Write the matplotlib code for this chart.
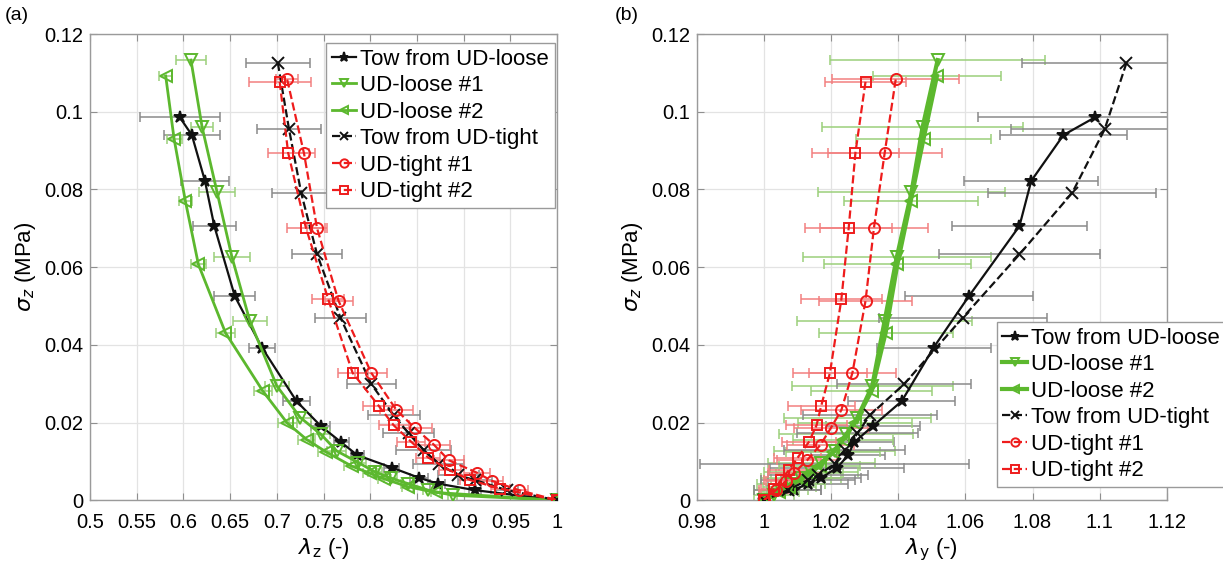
import matplotlib
matplotlib.use('Agg')
import matplotlib.pyplot as plt

plt.rcParams['font.family'] = ['Liberation Sans', 'DejaVu Sans']

# ---- Tow from UD-loose ----
sig_tl = [0.0986, 0.0940, 0.0822, 0.0706, 0.0525, 0.0393, 0.0255, 0.0191, 0.0149, 0.0116, 0.0084, 0.0058, 0.0043, 0.0026, 0.0]
lz_tl = [0.596, 0.609, 0.623, 0.633, 0.655, 0.684, 0.721, 0.747, 0.769, 0.786, 0.823, 0.852, 0.872, 0.912, 1.0]
lz_tl_err = [0.043, 0.030, 0.026, 0.023, 0.022, 0.014, 0.014, 0.010, 0.008, 0.007, 0.008, 0.010, 0.008, 0.006, 0.0]
ly_tl = [1.0987, 1.0892, 1.0796, 1.0761, 1.061, 1.0505, 1.041, 1.0324, 1.0268, 1.025, 1.0218, 1.017, 1.013, 1.0088, 1.0]
ly_tl_err = [0.035, 0.019, 0.020, 0.020, 0.019, 0.017, 0.016, 0.014, 0.012, 0.011, 0.020, 0.012, 0.012, 0.008, 0.0]

# ---- UD-loose #1 ----
sig_l1 = [0.1133, 0.0960, 0.0793, 0.0625, 0.0462, 0.0294, 0.0213, 0.0170, 0.0127, 0.0097, 0.0073, 0.0057, 0.0043, 0.0026, 0.0013, 0.0]
lz_l1 = [0.608, 0.620, 0.636, 0.652, 0.671, 0.700, 0.725, 0.747, 0.764, 0.787, 0.805, 0.822, 0.840, 0.862, 0.888, 1.0]
lz_l1_err = [0.016, 0.012, 0.019, 0.019, 0.018, 0.013, 0.012, 0.010, 0.010, 0.008, 0.008, 0.007, 0.007, 0.006, 0.005, 0.0]
ly_l1 = [1.0517, 1.0472, 1.0439, 1.0395, 1.0359, 1.0322, 1.0278, 1.0245, 1.021, 1.017, 1.014, 1.011, 1.008, 1.005, 1.003, 1.0]
ly_l1_err = [0.032, 0.030, 0.028, 0.028, 0.026, 0.024, 0.022, 0.020, 0.018, 0.016, 0.014, 0.012, 0.010, 0.008, 0.006, 0.0]

# ---- UD-loose #2 ----
sig_l2 = [0.1092, 0.0930, 0.0771, 0.0607, 0.0431, 0.0281, 0.0199, 0.0156, 0.0124, 0.0088, 0.0069, 0.0055, 0.0035, 0.0020, 0.0]
lz_l2 = [0.581, 0.590, 0.602, 0.616, 0.645, 0.685, 0.711, 0.732, 0.753, 0.780, 0.800, 0.815, 0.840, 0.870, 1.0]
lz_l2_err = [0.007, 0.008, 0.007, 0.008, 0.010, 0.010, 0.010, 0.009, 0.009, 0.008, 0.008, 0.007, 0.006, 0.005, 0.0]
ly_l2 = [1.0515, 1.0475, 1.0437, 1.0397, 1.0362, 1.032, 1.027, 1.0235, 1.0205, 1.0165, 1.0135, 1.011, 1.0075, 1.0045, 1.0]
ly_l2_err = [0.019, 0.020, 0.020, 0.022, 0.020, 0.018, 0.017, 0.015, 0.014, 0.012, 0.010, 0.009, 0.008, 0.006, 0.0]

# ---- Tow from UD-tight ----
sig_tt = [0.1126, 0.0955, 0.0791, 0.0633, 0.0470, 0.0299, 0.0219, 0.0172, 0.0129, 0.0094, 0.0064, 0.0052, 0.0026, 0.0]
lz_tt = [0.701, 0.713, 0.726, 0.743, 0.768, 0.801, 0.825, 0.841, 0.857, 0.873, 0.894, 0.912, 0.946, 1.0]
lz_tt_err = [0.034, 0.034, 0.031, 0.027, 0.027, 0.026, 0.028, 0.027, 0.029, 0.027, 0.022, 0.018, 0.012, 0.0]
ly_tt = [1.108, 1.1015, 1.0918, 1.0761, 1.0592, 1.0417, 1.0315, 1.0278, 1.024, 1.021, 1.016, 1.013, 1.007, 1.0]
ly_tt_err = [0.031, 0.028, 0.025, 0.024, 0.025, 0.020, 0.020, 0.018, 0.018, 0.040, 0.015, 0.014, 0.010, 0.0]

# ---- UD-tight #1 ----
sig_t1 = [0.1083, 0.0893, 0.0700, 0.0513, 0.0328, 0.0232, 0.0185, 0.0143, 0.0103, 0.0071, 0.0050, 0.0026, 0.0]
lz_t1 = [0.711, 0.729, 0.743, 0.766, 0.801, 0.828, 0.848, 0.868, 0.884, 0.914, 0.930, 0.959, 1.0]
lz_t1_err = [0.012, 0.012, 0.011, 0.015, 0.017, 0.018, 0.018, 0.017, 0.016, 0.014, 0.012, 0.010, 0.0]
ly_t1 = [1.0392, 1.0359, 1.0327, 1.0302, 1.0263, 1.023, 1.0198, 1.0168, 1.0128, 1.009, 1.0065, 1.0035, 1.0]
ly_t1_err = [0.019, 0.017, 0.016, 0.014, 0.013, 0.012, 0.011, 0.010, 0.009, 0.008, 0.006, 0.005, 0.0]

# ---- UD-tight #2 ----
sig_t2 = [0.1077, 0.0895, 0.0702, 0.0517, 0.0328, 0.0243, 0.0193, 0.0150, 0.0110, 0.0077, 0.0052, 0.0030, 0.0]
lz_t2 = [0.703, 0.712, 0.731, 0.755, 0.781, 0.809, 0.825, 0.844, 0.862, 0.885, 0.907, 0.939, 1.0]
lz_t2_err = [0.033, 0.022, 0.020, 0.017, 0.016, 0.017, 0.016, 0.015, 0.013, 0.012, 0.011, 0.010, 0.0]
ly_t2 = [1.0302, 1.0272, 1.0252, 1.023, 1.0196, 1.017, 1.0156, 1.0133, 1.010, 1.0073, 1.005, 1.003, 1.0]
ly_t2_err = [0.012, 0.013, 0.013, 0.012, 0.011, 0.010, 0.009, 0.008, 0.007, 0.006, 0.005, 0.004, 0.0]

labels = ['Tow from UD-loose', 'UD-loose #1', 'UD-loose #2',
          'Tow from UD-tight', 'UD-tight #1', 'UD-tight #2']

BLACK = '#111111'
GREEN = '#5cb82e'
RED = '#ee1c1c'
GREY_E = '#8a8a8a'
GREEN_E = '#9bd07a'
RED_E = '#f28080'


def draw_series(ax, x, y, xerr, color, ecolor, marker, ls, lw, ms, label):
    ax.errorbar(x, y, xerr=xerr, fmt='none', ecolor=ecolor, elinewidth=1.1,
                capsize=3.5, capthick=1.1, zorder=2)
    mfc = color if marker == '*' else 'none'
    ax.plot(x, y, color=color, ls=ls, lw=lw, marker=marker, ms=ms,
            mfc=mfc, mec=color, mew=1.4, label=label, zorder=3)


def style_axes(ax, xlim, xticks, xlabel):
    ax.set_xlim(*xlim)
    ax.set_ylim(0, 0.12)
    ax.set_xticks(xticks)
    ax.set_xticklabels([('%g' % t) for t in xticks])
    ax.set_yticks([0, 0.02, 0.04, 0.06, 0.08, 0.1, 0.12])
    ax.set_yticklabels(['0', '0.02', '0.04', '0.06', '0.08', '0.1', '0.12'])
    ax.grid(True, color='#e3e3e3', lw=0.9)
    ax.set_axisbelow(True)
    ax.tick_params(direction='in', length=5, width=0.8, color='#8f8f8f',
                   top=True, right=True, labelsize=14.5)
    ax.tick_params(axis='x', pad=9)
    ax.tick_params(axis='y', pad=5)
    for s in ax.spines.values():
        s.set_color('#9a9a9a')
        s.set_linewidth(1.0)
    ax.set_xlabel(xlabel, fontsize=16, labelpad=3)
    ax.set_ylabel(r'$\sigma_z$ (MPa)', fontsize=16, labelpad=4)


fig = plt.figure(figsize=(12.23, 5.77), dpi=100)
ax1 = fig.add_axes([0.0736, 0.133, 0.382, 0.808])
ax2 = fig.add_axes([0.570, 0.133, 0.384, 0.808])

# (a) lambda_z
draw_series(ax1, lz_tl, sig_tl, lz_tl_err, BLACK, GREY_E, '*', '-', 1.6, 9, labels[0])
draw_series(ax1, lz_l1, sig_l1, lz_l1_err, GREEN, GREEN_E, 'v', '-', 2.0, 8, labels[1])
draw_series(ax1, lz_l2, sig_l2, lz_l2_err, GREEN, GREEN_E, '<', '-', 2.0, 8, labels[2])
draw_series(ax1, lz_tt, sig_tt, lz_tt_err, BLACK, GREY_E, 'x', '--', 1.6, 8, labels[3])
draw_series(ax1, lz_t1, sig_t1, lz_t1_err, RED, RED_E, 'o', '--', 1.6, 8, labels[4])
draw_series(ax1, lz_t2, sig_t2, lz_t2_err, RED, RED_E, 's', '--', 1.6, 7, labels[5])
style_axes(ax1, (0.5, 1.0), [0.5, 0.55, 0.6, 0.65, 0.7, 0.75, 0.8, 0.85, 0.9, 0.95, 1.0],
           r'$\lambda_\mathrm{z}$ (-)')

# (b) lambda_y
draw_series(ax2, ly_tl, sig_tl, ly_tl_err, BLACK, GREY_E, '*', '-', 1.6, 9, labels[0])
draw_series(ax2, ly_l1, sig_l1, ly_l1_err, GREEN, GREEN_E, 'v', '-', 3.0, 8, labels[1])
draw_series(ax2, ly_l2, sig_l2, ly_l2_err, GREEN, GREEN_E, '<', '-', 3.0, 8, labels[2])
draw_series(ax2, ly_tt, sig_tt, ly_tt_err, BLACK, GREY_E, 'x', '--', 1.6, 8, labels[3])
draw_series(ax2, ly_t1, sig_t1, ly_t1_err, RED, RED_E, 'o', '--', 1.6, 8, labels[4])
draw_series(ax2, ly_t2, sig_t2, ly_t2_err, RED, RED_E, 's', '--', 1.6, 7, labels[5])
style_axes(ax2, (0.98, 1.12), [0.98, 1.0, 1.02, 1.04, 1.06, 1.08, 1.1, 1.12],
           r'$\lambda_\mathrm{y}$ (-)')

leg_kw = dict(fontsize=16, handlelength=1.1, handletextpad=0.2, borderpad=0.25,
              labelspacing=0.25, fancybox=False, framealpha=1, edgecolor='#9a9a9a',
              borderaxespad=0, markerscale=0.75)
l1 = ax1.legend(loc='upper left', bbox_to_anchor=(0.2666, 0.9255),
                bbox_transform=fig.transFigure, **leg_kw)
l2 = ax2.legend(loc='upper left', bbox_to_anchor=(0.815, 0.442),
                bbox_transform=fig.transFigure, **leg_kw)
for lg in (l1, l2):
    lg.get_frame().set_linewidth(1.0)

fig.text(0.004, 0.965, '(a)', fontsize=14)
fig.text(0.503, 0.965, '(b)', fontsize=14)

fig.savefig('out.png', dpi=100)
